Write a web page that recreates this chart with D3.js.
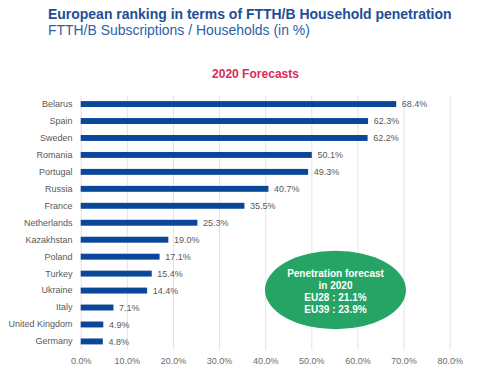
<!DOCTYPE html>
<html><head><meta charset="utf-8">
<script src="https://cdn.jsdelivr.net/npm/d3@7"></script>
<style>body{margin:0;background:#fff}svg{display:block}text{font-family:"Liberation Sans",Arial,sans-serif}</style>
</head><body>
<svg id="c" width="479" height="379"></svg>
<script>
const countries = ["Belarus","Spain","Sweden","Romania","Portugal","Russia","France","Netherlands","Kazakhstan","Poland","Turkey","Ukraine","Italy","United Kingdom","Germany"];
const values = [68.4,62.3,62.2,50.1,49.3,40.7,35.5,25.3,19.0,17.1,15.4,14.4,7.1,4.9,4.8];
const ticks = [0,10,20,30,40,50,60,70,80];
const bubbleLines = ["Penetration forecast","in 2020","EU28 : 21.1%","EU39 : 23.9%"];

const svg = d3.select("#c");
const x = d3.scaleLinear().domain([0,80]).range([80.7,449.7]);
const y = d3.scaleBand().domain(countries).range([95.5,350]).paddingInner(0.65).paddingOuter(0.33);

function fitText(sel, w){
  const n = sel.node(); const fs = parseFloat(sel.attr("font-size"));
  const L = n.getComputedTextLength(); sel.attr("font-size", (fs*w/L).toFixed(2));
}

fitText(svg.append("text").attr("x",48).attr("y",18.5).attr("font-size",14).attr("font-weight","bold").attr("fill","#1f4e96").text("European ranking in terms of FTTH/B Household penetration"),404);
fitText(svg.append("text").attr("x",48).attr("y",34.5).attr("font-size",14).attr("fill","#2c5fa8").text("FTTH/B Subscriptions / Households (in %)"),262);
fitText(svg.append("text").attr("x",255.5).attr("y",77.5).attr("text-anchor","middle").attr("font-size",12).attr("font-weight","bold").attr("fill","#d92b55").text("2020 Forecasts"),87);

// grid
svg.append("g").selectAll("line").data(ticks).join("line")
  .attr("x1",d=>x(d)+0.5).attr("x2",d=>x(d)+0.5).attr("y1",95.5).attr("y2",349.5)
  .attr("stroke","#e3e3e3").attr("stroke-width",1);

// axis
const ax = svg.append("g").attr("transform","translate(0,349)")
  .call(d3.axisBottom(x).tickValues(ticks).tickFormat(d=>d.toFixed(1)+"%").tickSize(0).tickPadding(0));
ax.select(".domain").remove();
ax.selectAll("text").attr("dy",null).attr("y",14.5).attr("font-size",9).attr("fill","#6b6b6b").attr("font-family","Liberation Sans, Arial, sans-serif");

// category axis
const ay = svg.append("g").attr("transform","translate(72.5,0)")
  .call(d3.axisLeft(y).tickSize(0).tickPadding(0));
ay.select(".domain").remove();
ay.selectAll("text").attr("font-size",9).attr("fill","#595959").attr("font-family","Liberation Sans, Arial, sans-serif");

// bars
svg.append("g").selectAll("rect").data(countries).join("rect")
  .attr("x",x(0)).attr("y",d=>y(d)).attr("height",y.bandwidth())
  .attr("width",(d,i)=>x(values[i])-x(0)).attr("fill","#0b4799");

// value labels
svg.append("g").selectAll("text").data(countries).join("text")
  .attr("x",(d,i)=>x(values[i])+5.6).attr("y",d=>y(d)+y.bandwidth()/2).attr("dy","0.35em")
  .attr("font-size",9).attr("fill","#595959").text((d,i)=>values[i].toFixed(1)+"%");

// bubble
svg.append("ellipse").attr("cx",335.5).attr("cy",290).attr("rx",70.5).attr("ry",39.2).attr("fill","#25a466");
svg.append("g").selectAll("text").data(bubbleLines).join("text")
  .attr("x",335.5).attr("y",(d,i)=>276.5+i*12.3).attr("text-anchor","middle")
  .attr("font-size",10).attr("font-weight","bold").attr("fill","#fff").text(d=>d);
</script>
</body></html>
